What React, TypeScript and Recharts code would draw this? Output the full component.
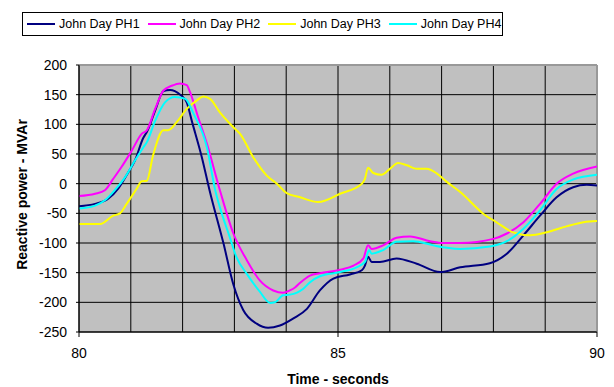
import React from 'react';
import { LineChart, Line, XAxis, YAxis, CartesianGrid, Legend, ReferenceLine } from 'recharts';

// Time (s) / reactive power (MVAr), one pair of arrays per plant
const ph1Times = [80, 80.31, 80.57, 80.76, 80.95, 81.08, 81.24, 81.31, 81.47, 81.63, 81.76, 81.85, 81.98, 82.08, 82.18, 82.37, 82.52, 82.79, 82.98, 83.17, 83.43, 83.65, 83.88, 84.14, 84.4, 84.65, 84.91, 85.23, 85.46, 85.52, 85.58, 85.65, 85.81, 86.13, 86.52, 86.97, 87.36, 87.93, 88.26, 88.58, 88.9, 89.22, 89.54, 89.8, 90];
const ph1Values = [-38, -34, -25, -8, 19, 39, 77, 87, 123, 156, 158, 156, 148, 137, 105, 45, -11, -101, -170, -213, -236, -243, -239, -227, -211, -180, -160, -153, -146, -138, -123, -132, -132, -126, -135, -149, -141, -134, -118, -87, -54, -23, -6, -2, -3];

const ph2Times = [80, 80.31, 80.5, 80.66, 80.82, 81.02, 81.21, 81.31, 81.47, 81.63, 81.79, 81.95, 82.08, 82.14, 82.3, 82.47, 82.72, 82.98, 83.24, 83.49, 83.75, 83.94, 84.07, 84.17, 84.27, 84.46, 84.65, 85.04, 85.3, 85.49, 85.58, 85.65, 85.87, 86.13, 86.39, 86.78, 87.03, 87.36, 88, 88.26, 88.58, 88.9, 89.22, 89.54, 90];
const ph2Values = [-21, -17, -11, 8, 28, 56, 84, 90, 126, 157, 165, 169, 166, 155, 112, 67, -11, -84, -129, -163, -180, -184, -180, -175, -167, -155, -151, -145, -138, -126, -104, -110, -104, -91, -89, -97, -100, -100, -93, -84, -65, -34, 0, 17, 29];

const ph3Times = [80, 80.41, 80.66, 80.79, 80.92, 81.11, 81.21, 81.31, 81.43, 81.63, 81.72, 81.89, 82.08, 82.27, 82.4, 82.53, 82.72, 82.98, 83.11, 83.36, 83.62, 83.82, 84.01, 84.27, 84.62, 85.04, 85.46, 85.52, 85.58, 85.68, 85.84, 86, 86.16, 86.33, 86.52, 86.71, 86.91, 87.1, 87.36, 87.81, 88.06, 88.38, 88.71, 89.03, 89.41, 89.74, 90];
const ph3Values = [-68, -68, -54, -50, -34, -9, 4, 5, 48, 90, 90, 104, 126, 140, 147, 143, 120, 95, 84, 45, 14, 0, -16, -23, -31, -17, 0, 8, 27, 18, 15, 25, 35, 31, 25, 25, 17, 3, -14, -51, -65, -82, -87, -82, -72, -65, -63];

const ph4Times = [80, 80.31, 80.5, 80.69, 80.89, 81.08, 81.24, 81.31, 81.47, 81.66, 81.85, 82.05, 82.21, 82.47, 82.63, 82.72, 82.91, 83.04, 83.24, 83.49, 83.69, 83.78, 83.94, 84.07, 84.33, 84.46, 84.65, 85.04, 85.36, 85.52, 85.6, 85.65, 85.87, 86.13, 86.45, 86.84, 87.1, 87.36, 87.93, 88.26, 88.58, 88.9, 89.22, 89.54, 90];
const ph4Values = [-42, -37, -28, -11, 11, 39, 61, 70, 106, 137, 146, 143, 118, 61, -11, -40, -90, -124, -152, -182, -201, -200, -188, -187, -177, -166, -156, -149, -141, -132, -112, -118, -112, -98, -97, -104, -108, -110, -106, -97, -76, -45, -9, 7, 15];

const seriesNames = ['John Day PH1', 'John Day PH2', 'John Day PH3', 'John Day PH4'];
const seriesColors = ['#000080', '#FF00FF', '#FFFF00', '#00FFFF'];

const xTicks = [80, 85, 90];
const xGridValues = [80, 81, 82, 83, 84, 85, 86, 87, 88, 89, 90];
const yTicks = [-250, -200, -150, -100, -50, 0, 50, 100, 150, 200];

const toPoints = (times: number[], values: number[]) => times.map((t, i) => ({ t, v: values[i] }));

const series = [
  toPoints(ph1Times, ph1Values),
  toPoints(ph2Times, ph2Values),
  toPoints(ph3Times, ph3Values),
  toPoints(ph4Times, ph4Values),
];

const FONT = '"Liberation Sans", Arial, sans-serif';

const YTitle = ({ viewBox }: any) => {
  const cx = viewBox.x + 12;
  const cy = viewBox.y + viewBox.height / 2 - 4;
  return (
    <text
      x={cx}
      y={cy}
      transform={`rotate(-90, ${cx}, ${cy})`}
      textAnchor="middle"
      dominantBaseline="central"
      fontFamily={FONT}
      fontSize={14}
      fontWeight="bold"
      fill="#000"
    >
      Reactive power - MVAr
    </text>
  );
};

const renderLegend = (props: any) => {
  const { payload = [] } = props;
  return (
    <div
      style={{
        border: '1px solid #000',
        height: 22,
        display: 'flex',
        alignItems: 'center',
        paddingLeft: 4,
        fontFamily: FONT,
        fontSize: 12.5,
        color: '#000',
        whiteSpace: 'nowrap',
      }}
    >
      {payload.map((entry: any) => (
        <div key={entry.value} style={{ display: 'flex', alignItems: 'center', flexShrink: 0, marginRight: 8 }}>
          <span style={{ display: 'inline-block', width: 28, height: 2, background: entry.color, marginRight: 4 }}></span>
          <span>{entry.value}</span>
        </div>
      ))}
    </div>
  );
};

export default function App() {
  return (
    <div style={{ position: 'absolute', left: 0, top: 0, width: 614, height: 387, background: '#fff' }}>
      <LineChart width={614} height={387} margin={{ top: 65, right: 17, left: 10, bottom: 0 }}>
        <CartesianGrid
          fill="#C0C0C0"
          fillOpacity={1}
          stroke="#000"
          strokeWidth={1}
          verticalValues={xGridValues}
          horizontalValues={yTicks}
        />
        <XAxis
          type="number"
          dataKey="t"
          domain={[80, 90]}
          ticks={xTicks}
          allowDataOverflow
          height={55}
          tickSize={5}
          tickMargin={11}
          stroke="#000"
          tick={{ fill: '#000', fontSize: 14, fontFamily: FONT }}
          label={{ value: 'Time - seconds', position: 'insideBottom', offset: 3, fill: '#000', fontSize: 14, fontWeight: 'bold', fontFamily: FONT }}
        />
        <YAxis
          type="number"
          domain={[-250, 200]}
          ticks={yTicks}
          width={69}
          tickSize={3}
          tickMargin={9}
          stroke="#000"
          tick={{ fill: '#000', fontSize: 14, fontFamily: FONT }}
          label={<YTitle />}
        />
        <ReferenceLine y={200} stroke="#999" strokeWidth={2} />
        <ReferenceLine x={90} stroke="#999" strokeWidth={2} />
        <Legend
          verticalAlign="middle"
          align="center"
          layout="horizontal"
          content={renderLegend}
          wrapperStyle={{ top: 12, left: 22, width: 481, height: 24 }}
        />
        {series.map((data, i) => (
          <Line
            key={seriesNames[i]}
            data={data}
            dataKey="v"
            name={seriesNames[i]}
            type="monotone"
            stroke={seriesColors[i]}
            strokeWidth={2}
            dot={false}
            activeDot={false}
            isAnimationActive={false}
          />
        ))}
      </LineChart>
    </div>
  );
}
